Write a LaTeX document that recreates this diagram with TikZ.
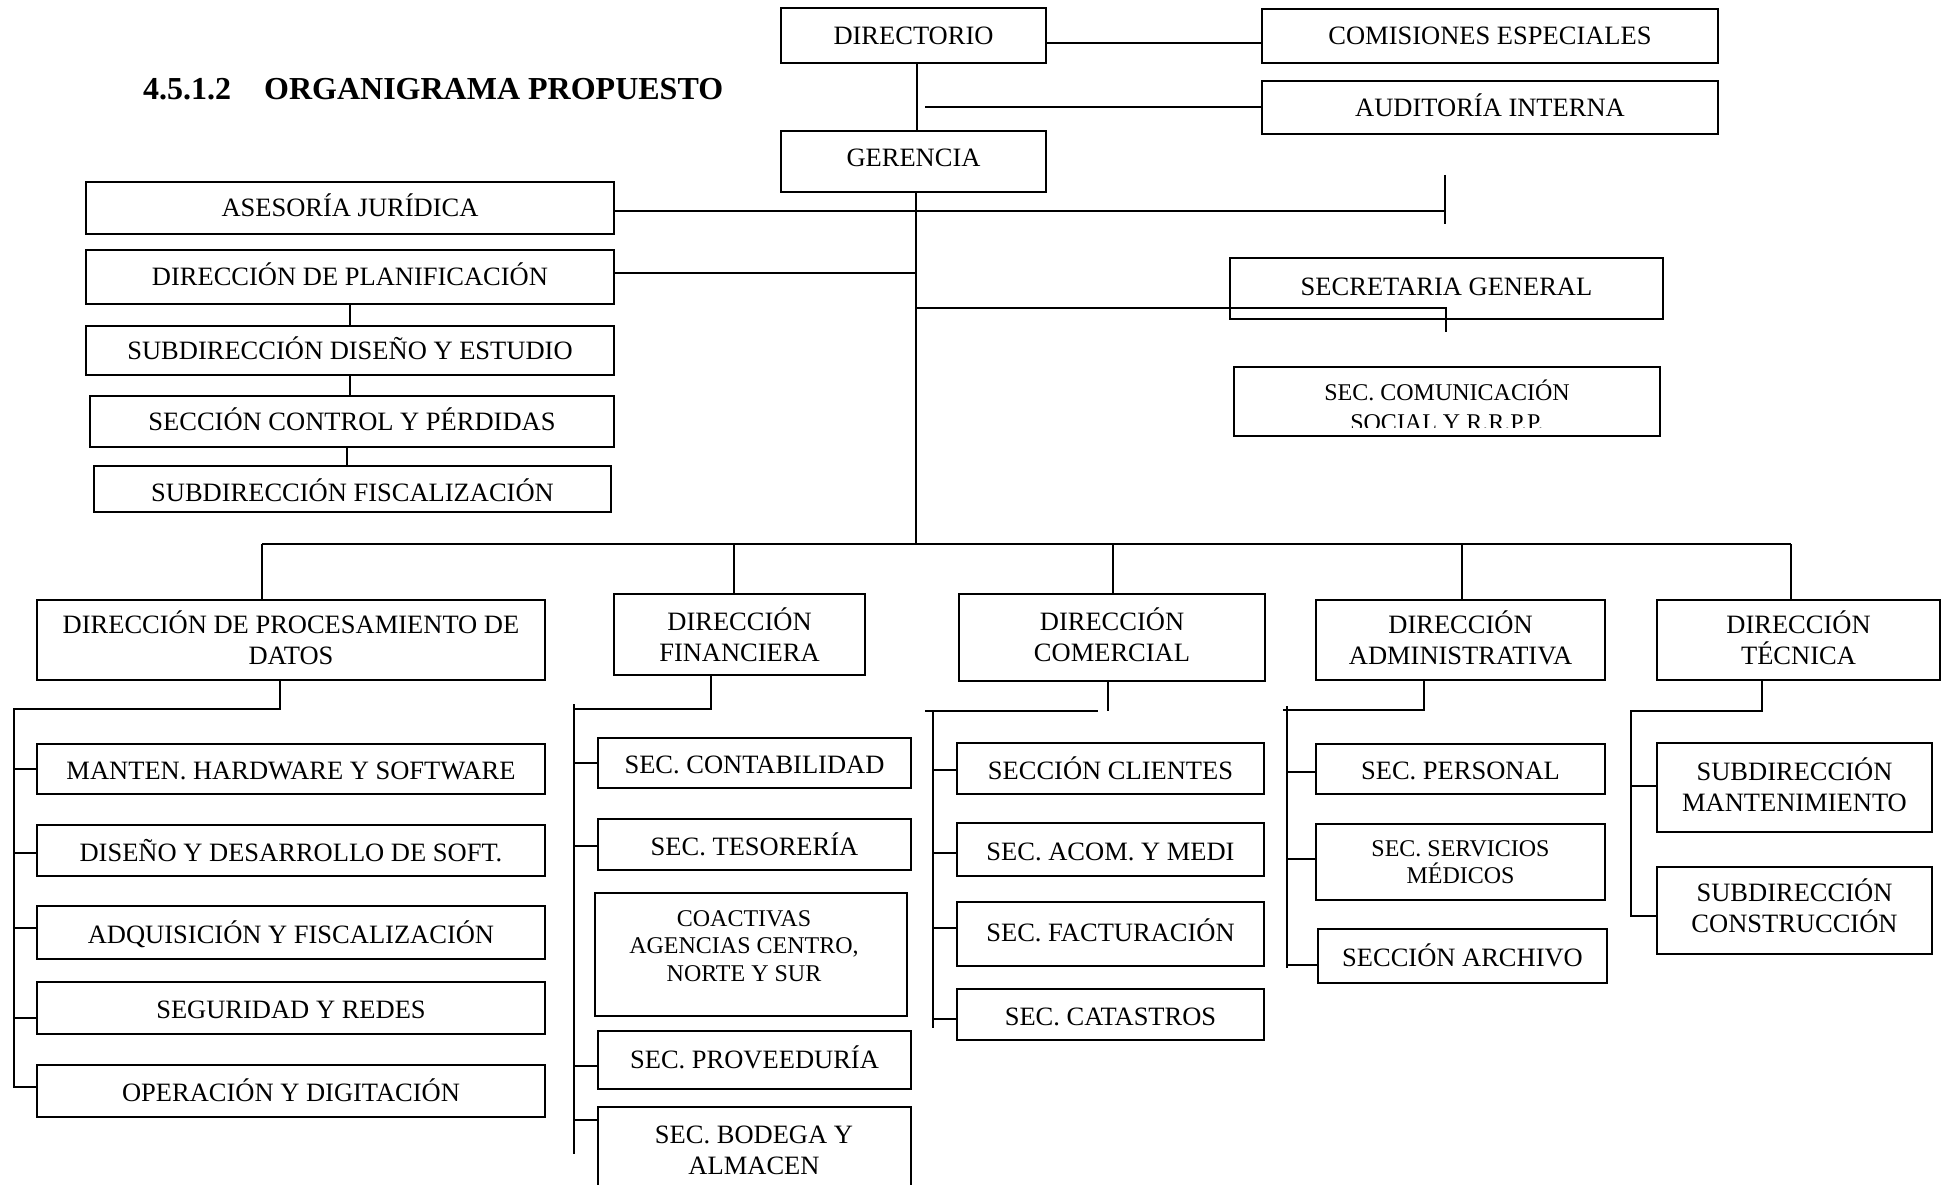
\documentclass[tikz,border=0pt]{standalone}
\usepackage{fontspec}
\setmainfont{Liberation Serif}
\newcommand\orgbox[7][]{\node[box,minimum width={#5-#3},minimum height={#6-#4},#1] (#2) at ({(#3+#5)/2},{(#4+#6)/2}) {#7};}
\begin{document}
\begin{tikzpicture}[x=1pt,y=-1pt,
  box/.style={draw,line width=2pt,inner sep=0pt,font=\fontsize{26.5}{31}\selectfont},
  box1/.style={box,text height=17.5pt,text depth=0pt},
  box1l/.style={box,text height=21.5pt,text depth=0pt},
  boxm/.style={box,align=center},
  sboxm/.style={boxm,font=\fontsize{24}{27}\selectfont},
  ln/.style={line width=1.8pt},
  txt/.style={inner sep=0pt,align=center,font=\fontsize{26.5}{31}\selectfont},
  stxt/.style={inner sep=0pt,align=center,font=\fontsize{24}{27.5}\selectfont}]
\path[use as bounding box] (0,0) rectangle (1948,1185);
\clip (0,0) rectangle (1948,1185);

% title
\node[anchor=base west,inner sep=0pt,font=\bfseries\fontsize{32}{38}\selectfont] (title) at (143,100) {4.5.1.2\hspace{33pt}ORGANIGRAMA PROPUESTO};

% top boxes
\orgbox[box1]{dir}{781}{8}{1046}{63}{DIRECTORIO}
\orgbox[box1]{com}{1262}{9}{1718}{63}{COMISIONES ESPECIALES}
\orgbox[box1]{aud}{1262}{81}{1718}{134}{AUDITORÍA INTERNA}
\orgbox[box1,text depth=8pt]{ger}{781}{131}{1046}{192}{GERENCIA}
\orgbox[box1]{ase}{86}{182}{614}{234}{ASESORÍA JURÍDICA}
\orgbox[box1]{pla}{86}{250}{614}{304}{DIRECCIÓN DE PLANIFICACIÓN}
\orgbox[box1]{sdd}{86}{326}{614}{375}{SUBDIRECCIÓN DISEÑO Y ESTUDIO}
\orgbox[box1]{scp}{90}{396}{614}{447}{SECCIÓN CONTROL Y PÉRDIDAS}
\orgbox[box1,text height=25pt]{sdf}{94}{466}{611}{512}{SUBDIRECCIÓN FISCALIZACIÓN}
\orgbox[box1,text depth=3pt]{sec}{1230}{258}{1663}{319}{SECRETARIA GENERAL}
\orgbox{scs}{1234}{367}{1660}{436}{}
\begin{scope}
\clip (1234,367) rectangle (1660,427.5);
\node[stxt,anchor=base] (scs1) at (1447,400) {SEC. COMUNICACIÓN};
\node[stxt,anchor=base] (scs2) at (1447,430) {SOCIAL Y R.R.P.P.};
\end{scope}

% direction boxes
\orgbox[boxm]{dpd}{37}{600}{545}{680}{DIRECCI\smash{Ó}N DE PROCESAMIENTO DE\\DATOS}
\orgbox[boxm]{dfi}{614}{594}{865}{675}{\rule{0pt}{23.5pt}DIRECCI\smash{Ó}N\\FINANCIERA}
\orgbox[boxm]{dco}{959}{594}{1265}{681}{DIRECCI\smash{Ó}N\\COMERCIAL}
\orgbox[boxm]{dad}{1316}{600}{1605}{680}{DIRECCI\smash{Ó}N\\ADMINISTRATIVA}
\orgbox[boxm]{dte}{1657}{600}{1940}{680}{DIRECCI\smash{Ó}N\\TÉCNICA}

% procesamiento de datos
\orgbox[box1l]{p1}{37}{744}{545}{794}{MANTEN. HARDWARE Y SOFTWARE}
\orgbox[box1l]{p2}{37}{825}{545}{876}{DISEÑO Y DESARROLLO DE SOFT.}
\orgbox[box1l]{p3}{37}{906}{545}{959}{ADQUISICIÓN Y FISCALIZACIÓN}
\orgbox[box1l]{p4}{37}{982}{545}{1034}{SEGURIDAD Y REDES}
\orgbox[box1l]{p5}{37}{1065}{545}{1117}{OPERACIÓN Y DIGITACIÓN}

% financiera
\orgbox[box1l]{f1}{598}{738}{911}{788}{SEC. CONTABILIDAD}
\orgbox[box1l]{f2}{598}{819}{911}{870}{SEC. TESORERÍA}
\orgbox{f3}{595}{893}{907}{1016}{}
\node[stxt] (f3t) at (744,946) {COACTIVAS\\AGENCIAS CENTRO,\\NORTE Y SUR};
\orgbox[box1]{f4}{598}{1031}{911}{1089}{SEC. PROVEEDURÍA}
\orgbox{f5}{598}{1107}{911}{1200}{}
\node[txt] (f5t) at (754,1150) {SEC. BODEGA Y\\ALMACEN};

% comercial
\orgbox[box1l]{c1}{957}{743}{1264}{794}{SECCIÓN CLIENTES}
\orgbox[box1l]{c2}{957}{823}{1264}{876}{SEC. ACOM. Y MEDI}
\orgbox[box1,text depth=3pt]{c3}{957}{902}{1264}{966}{SEC. FACTURACIÓN}
\orgbox[box1l]{c4}{957}{989}{1264}{1040}{SEC. CATASTROS}

% administrativa
\orgbox[box1l]{a1}{1316}{744}{1605}{794}{SEC. PERSONAL}
\orgbox[sboxm]{a2}{1316}{824}{1605}{900}{SEC. SERVICIOS\\M\smash{É}DICOS}
\orgbox[box1l]{a3}{1318}{929}{1607}{983}{SECCIÓN ARCHIVO}

% tecnica
\orgbox[boxm,text depth=1pt]{t1}{1657}{743}{1932}{832}{SUBDIRECCI\smash{Ó}N\\MANTENIMIENTO}
\orgbox[boxm,text depth=5pt]{t2}{1657}{867}{1932}{954}{SUBDIRECCI\smash{Ó}N\\CONSTRUCCIÓN}

% ---- connectors: top
\draw[ln] (dir.east |- 0,43) -- (com.west |- 0,43);
\coordinate (a0) at (925,107);
\draw[ln] (a0) -- (aud.west |- a0);
\draw[ln] (dir.south -| 917,0) -- (ger.north -| 917,0);
\coordinate (bj) at (916,544);
\draw[ln] (ger.south -| bj) -- (bj);
\coordinate (asR) at (1445,211);
\coordinate (asT) at (1445,175);
\coordinate (asB) at (1445,224);
\draw[ln] (ase.east |- asR) -- (asR);
\draw[ln] (asT) -- (asB);
\draw[ln] (pla.east |- 0,273) -- (bj |- 0,273);
\coordinate (sgR) at (1446,308);
\coordinate (sgB) at (1446,332);
\draw[ln] (bj |- sgR) -- (sgR) -- (sgB);
\draw[ln] (pla.south -| 350,0) -- (sdd.north -| 350,0);
\draw[ln] (sdd.south -| 350,0) -- (scp.north -| 350,0);
\draw[ln] (scp.south -| 347,0) -- (sdf.north -| 347,0);

% ---- main bus
\coordinate (busL) at (262,544);
\coordinate (busR) at (1791,544);
\draw[ln] (busL) -- (busR);
\draw[ln] (busL) -- (dpd.north -| busL);
\draw[ln] (734,544) -- (dfi.north -| 734,0);
\draw[ln] (1113,544) -- (dco.north -| 1113,0);
\draw[ln] (1462,544) -- (dad.north -| 1462,0);
\draw[ln] (busR) -- (dte.north -| busR);

% ---- procesamiento
\draw[ln] (dpd.south -| 280,0) -- (280,709) -- (14,709) -- (14,1087) -- (p5.west |- 0,1087);
\foreach \nm/\yy in {p1/769,p2/853,p3/928,p4/1018} \draw[ln] (14,\yy) -- (\nm.west |- 0,\yy);

% ---- financiera
\draw[ln] (dfi.south -| 711,0) -- (711,709) -- (574,709);
\draw[ln] (574,704) -- (574,1154);
\foreach \nm/\yy in {f1/763,f2/846,f4/1066,f5/1120} \draw[ln] (574,\yy) -- (\nm.west |- 0,\yy);

% ---- comercial
\draw[ln] (dco.south -| 1108,0) -- (1108,711);
\draw[ln] (925,711) -- (1098,711);
\draw[ln] (933,711) -- (933,1028);
\foreach \nm/\yy in {c1/770,c2/853,c3/928,c4/1019} \draw[ln] (933,\yy) -- (\nm.west |- 0,\yy);

% ---- administrativa
\draw[ln] (dad.south -| 1424,0) -- (1424,710) -- (1283,710);
\draw[ln] (1287,706) -- (1287,968);
\foreach \nm/\yy in {a1/772,a2/859,a3/965} \draw[ln] (1287,\yy) -- (\nm.west |- 0,\yy);

% ---- tecnica
\draw[ln] (dte.south -| 1762,0) -- (1762,711) -- (1631,711) -- (1631,916) -- (t2.west |- 0,916);
\draw[ln] (1631,786) -- (t1.west |- 0,786);
\end{tikzpicture}
\end{document}
